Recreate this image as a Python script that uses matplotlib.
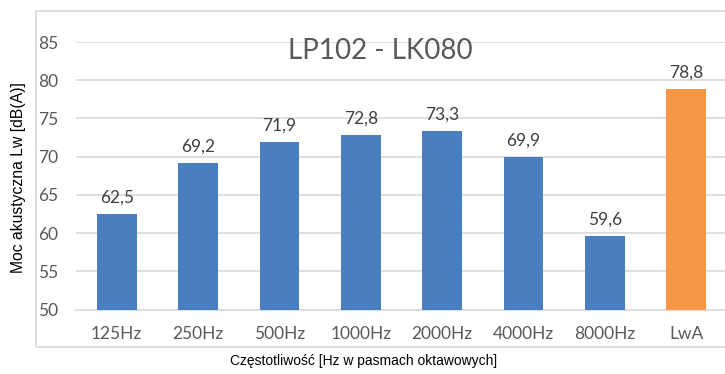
import matplotlib
matplotlib.use("Agg")
import matplotlib.pyplot as plt
from matplotlib.patches import Rectangle

categories = ["125Hz", "250Hz", "500Hz", "1000Hz", "2000Hz", "4000Hz", "8000Hz", "LwA"]
values = [62.5, 69.2, 71.9, 72.8, 73.3, 69.9, 59.6, 78.8]
bar_colors = ["#4A7FBF"] * 7 + ["#F79646"]
yticks = [50, 55, 60, 65, 70, 75, 80, 85]
title = "LP102 - LK080"
ylabel = "Moc akustyczna Lw [dB(A)]"
xlabel = "Częstotliwość [Hz w pasmach oktawowych]"

W, H = 725, 374
fig = plt.figure(figsize=(W / 100, H / 100), dpi=100)
fig.patch.set_facecolor("white")

# outer chart frame (right side runs off the image in the original)
fig.patches.append(Rectangle((36 / W, 1 - 347 / H), 700 / W, (347 - 11) / H,
                             transform=fig.transFigure, fill=False,
                             edgecolor="#D9D9D9", lw=1.2, zorder=0))

ax = fig.add_axes([76 / W, 1 - 309.5 / H, 651 / W, 267.5 / H])
ax.set_facecolor("none")

x = range(len(categories))
bars = ax.bar(x, values, width=0.49, color=bar_colors, zorder=3)
ax.bar_label(bars, labels=[f"{v:.1f}".replace(".", ",") for v in values],
             padding=6, fontsize=12.5, color="#404040", family="Lato")

ax.set_xlim(-0.5, 7.5)
ax.set_ylim(50, 85)
ax.set_yticks(yticks)
ax.set_xticks(list(x))
ax.set_xticklabels(categories)
ax.grid(axis="y", color="#D9D9D9", lw=1.2, zorder=0)
ax.set_axisbelow(True)

for s in ["top", "right", "left"]:
    ax.spines[s].set_visible(False)
ax.spines["bottom"].set_color("#D9D9D9")
ax.spines["bottom"].set_linewidth(1.2)

ax.tick_params(axis="both", length=0, labelsize=12.5, labelcolor="#595959")
ax.tick_params(axis="y", pad=13)
ax.tick_params(axis="x", pad=12)
for t in ax.get_xticklabels() + ax.get_yticklabels():
    t.set_family("Lato")

fig.text(380 / W, 1 - 51 / H, title, ha="center", va="center",
         fontsize=20, color="#595959", family="Lato")
fig.text(19 / W, 1 - 178 / H, ylabel, rotation=90, ha="center", va="center",
         fontsize=11.3, color="black", family="Liberation Sans")
fig.text(364 / W, 1 - 361 / H, xlabel, ha="center", va="center",
         fontsize=10, color="black", family="Liberation Sans")

fig.savefig("out.png", dpi=100)
